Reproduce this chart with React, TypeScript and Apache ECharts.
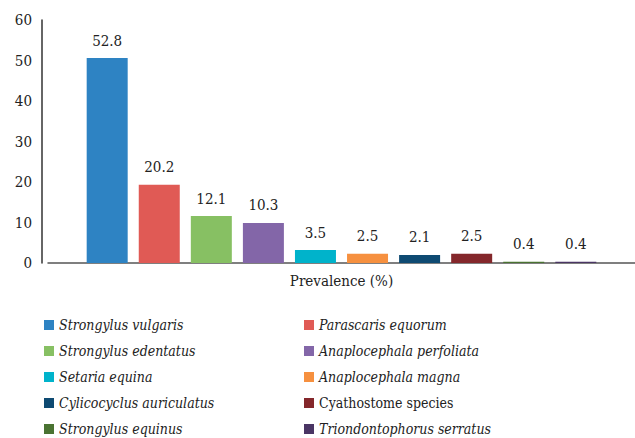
import React, { useEffect, useRef } from "react";
import * as echarts from "echarts";

const categories = ["Prevalence (%)"];
const seriesNames = [
  "Strongylus vulgaris",
  "Parascaris equorum",
  "Strongylus edentatus",
  "Anaplocephala perfoliata",
  "Setaria equina",
  "Anaplocephala magna",
  "Cylicocyclus auriculatus",
  "Cyathostome species",
  "Strongylus equinus",
  "Triondontophorus serratus",
];
// bar heights as drawn against the axis
const barValues = [50.6, 19.3, 11.6, 9.9, 3.2, 2.3, 2.0, 2.3, 0.3, 0.3];
// printed value labels
const valueLabels = ["52.8", "20.2", "12.1", "10.3", "3.5", "2.5", "2.1", "2.5", "0.4", "0.4"];
const colors = [
  "#2E83C3",
  "#E05A55",
  "#87C063",
  "#8366A8",
  "#00B3CB",
  "#F6903F",
  "#0E4A72",
  "#84272B",
  "#4A7332",
  "#4A3564",
];
const yTicks = [0, 10, 20, 30, 40, 50, 60];
const uprightNames = ["Cyathostome species"];

const FONT = "'DejaVu Serif Condensed', 'DejaVu Serif'";

export default function App() {
  const ref = useRef<HTMLDivElement>(null);
  useEffect(() => {
    if (!ref.current) return;
    const chart = echarts.init(ref.current, undefined, { renderer: "svg" });
    const legendFormatter = (name: string) =>
      uprightNames.includes(name) ? `{n|${name}}` : `{i|${name}}`;
    const legendText = {
      color: "#222",
      fontFamily: FONT,
      fontSize: 14,
      rich: {
        i: { fontStyle: "italic", fontFamily: FONT, fontSize: 14, color: "#222" },
        n: { fontStyle: "normal", fontFamily: FONT, fontSize: 14, color: "#222" },
      },
    };
    const leftNames = seriesNames.filter((_, i) => i % 2 === 0);
    const rightNames = seriesNames.filter((_, i) => i % 2 === 1);
    const legendBase = {
      orient: "vertical",
      top: 313,
      height: 130,
      icon: "rect",
      itemWidth: 10,
      itemHeight: 10,
      itemGap: 12,
      formatter: legendFormatter,
      textStyle: legendText,
      selectedMode: false,
    };
    chart.setOption({
      animation: false,
      textStyle: { fontFamily: FONT },
      grid: { left: 48, right: 0, top: 20, bottom: 175, containLabel: false },
      legend: [
        { ...legendBase, data: leftNames, left: 39 },
        { ...legendBase, data: rightNames, left: 299 },
      ],
      xAxis: {
        type: "category",
        data: categories,
        axisLine: { lineStyle: { color: "#555", width: 1.5 } },
        axisTick: { show: false },
        axisLabel: { fontFamily: FONT, fontSize: 15, color: "#222", margin: 10 },
      },
      yAxis: {
        type: "value",
        min: yTicks[0],
        max: yTicks[yTicks.length - 1],
        interval: 10,
        offset: 6,
        axisLine: { show: true, lineStyle: { color: "#333", width: 1.5 } },
        axisTick: { show: false },
        splitLine: { show: false },
        axisLabel: { fontFamily: FONT, fontSize: 15, color: "#222", margin: 10 },
      },
      series: seriesNames.map((name, i) => ({
        name,
        type: "bar",
        data: [barValues[i]],
        barWidth: 41,
        barGap: "27%",
        itemStyle: { color: colors[i] },
        label: {
          show: true,
          position: "top",
          distance: 10,
          formatter: () => valueLabels[i],
          fontFamily: FONT,
          fontSize: 15,
          color: "#222",
        },
      })),
    });
    return () => chart.dispose();
  }, []);
  return (
    <div
      ref={ref}
      style={{ position: "fixed", left: 0, top: 0, width: 635, height: 438, background: "#fff" }}
    />
  );
}
